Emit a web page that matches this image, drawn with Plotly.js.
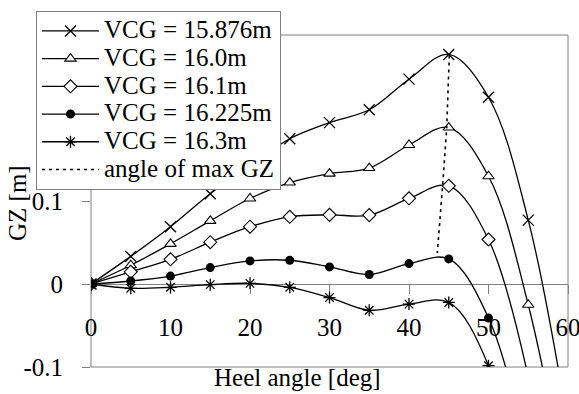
<!DOCTYPE html>
<html><head><meta charset="utf-8">
<script src="https://cdn.plot.ly/plotly-3.0.1.min.js"></script>
<style>html,body{margin:0;padding:0;background:#fff}#chart{width:579px;height:394px}
#chart svg text{font-family:'Liberation Serif',serif !important}</style>
</head><body><div id="chart"></div>
<script>
// Heel angles [deg]
const angles = [0, 5, 10, 15, 20, 25, 30, 35, 40, 45, 50, 55, 60];
const anglesShort = [0, 5, 10, 15, 20, 25, 30, 35, 40, 45, 50, 55];
// GZ [m] per VCG
const gz_15_876 = [0, 0.0333, 0.069, 0.1087, 0.143, 0.175, 0.1944, 0.2099, 0.2468, 0.2766, 0.225, 0.077, -0.17];
const gz_16_0   = [0, 0.0226, 0.0484, 0.076, 0.103, 0.1222, 0.133, 0.1397, 0.1675, 0.1885, 0.1298, -0.025, -0.26];
const gz_16_1   = [0, 0.0147, 0.0298, 0.0504, 0.069, 0.081, 0.0833, 0.083, 0.1032, 0.1183, 0.0536, -0.112];
const gz_16_225 = [0, 0.0036, 0.0095, 0.0198, 0.0278, 0.0286, 0.0206, 0.0115, 0.0246, 0.0302, -0.0409, -0.21];
const gz_16_3   = [0, -0.0052, -0.004, -0.0008, 0.0008, -0.004, -0.0163, -0.0317, -0.0242, -0.0222, -0.0984, -0.30];
// angle of max GZ (peak of each curve)
const maxAngle = [45.07, 44.74, 44.24, 43.56];
const maxGZ    = [0.2754, 0.1873, 0.1199, 0.0373];
const seriesNames = ['VCG = 15.876m', 'VCG = 16.0m', 'VCG = 16.1m', 'VCG = 16.225m', 'VCG = 16.3m', 'angle of max GZ'];
const xTicks = [0, 10, 20, 30, 40, 50, 60];
const yTicks = [-0.1, 0, 0.1];
const yTickText = ['-0.1', '0', '0.1'];

const FONT = 'Liberation Serif';
const lab = s => '<span style="font-size:25px">' + s + '</span>';
const lineStyle = {color: '#000', width: 1.3, shape: 'spline', smoothing: 1};

const traces = [
  {x: angles, y: gz_15_876, name: lab(seriesNames[0]), mode: 'lines+markers', line: lineStyle,
   marker: {symbol: 'x-thin', size: 11, line: {color: '#000', width: 1.3}}},
  {x: angles, y: gz_16_0, name: lab(seriesNames[1]), mode: 'lines+markers', line: lineStyle,
   marker: {symbol: 'triangle-up', size: 10, color: '#fff', line: {color: '#000', width: 1.1}}},
  {x: anglesShort, y: gz_16_1, name: lab(seriesNames[2]), mode: 'lines+markers', line: lineStyle,
   marker: {symbol: 'diamond', size: 10, color: '#fff', line: {color: '#000', width: 1.1}}},
  {x: anglesShort, y: gz_16_225, name: lab(seriesNames[3]), mode: 'lines+markers', line: lineStyle,
   marker: {symbol: 'circle', size: 9, color: '#000', line: {color: '#000', width: 0}}},
  {x: anglesShort, y: gz_16_3, name: lab(seriesNames[4]), mode: 'lines+markers', line: lineStyle,
   marker: {symbol: 'asterisk', size: 10, line: {color: '#000', width: 1.3}}},
  {x: maxAngle, y: maxGZ, name: lab(seriesNames[5]), mode: 'lines',
   line: {color: '#000', width: 1.6, dash: '3px,4px'}}
];

const layout = {
  width: 579, height: 394,
  margin: {l: 91, r: 11, t: 33, b: 27},
  paper_bgcolor: '#fff', plot_bgcolor: '#fff',
  font: {family: FONT, size: 25, color: '#000'},
  showlegend: true,
  legend: {
    x: -0.1153, y: 1.072, xanchor: 'left', yanchor: 'top',
    bgcolor: '#fff', bordercolor: '#808080', borderwidth: 1,
    font: {family: FONT, size: 19, color: '#000'},
    itemwidth: 57, tracegroupgap: 0
  },
  xaxis: {
    range: [0, 60], tickvals: xTicks, anchor: 'free', position: 0.25,
    showline: false, zeroline: false, showgrid: false,
    ticks: 'outside', ticklen: 9, tickcolor: '#808080', tickwidth: 1,
    ticklabelstandoff: 12, ticklabeloverflow: 'allow',
    tickfont: {family: FONT, size: 25, color: '#000'},
    layer: 'below traces'
  },
  yaxis: {
    range: [-0.1, 0.3], tickvals: yTicks, ticktext: yTickText,
    showline: false, showgrid: false,
    zeroline: true, zerolinecolor: '#808080', zerolinewidth: 1,
    ticks: 'outside', ticklen: 8, tickcolor: '#808080', tickwidth: 1,
    ticklabelstandoff: 14, tickfont: {family: FONT, size: 25, color: '#000'},
    automargin: false, layer: 'below traces'
  },
  shapes: [{type: 'rect', xref: 'paper', yref: 'paper', x0: 0, x1: 1, y0: 0, y1: 1,
            line: {color: '#808080', width: 1}, layer: 'below'}],
  annotations: [
    {text: 'Heel angle [deg]', xref: 'paper', yref: 'paper', x: 0.433, y: -0.033,
     xanchor: 'center', yanchor: 'middle', showarrow: false,
     font: {family: FONT, size: 25, color: '#000'}},
    {text: 'GZ [m]', xref: 'paper', yref: 'paper', x: -0.153, y: 0.494, textangle: -90,
     xanchor: 'center', yanchor: 'middle', showarrow: false,
     font: {family: FONT, size: 25, color: '#000'}}
  ]
};

Plotly.newPlot('chart', traces, layout, {displayModeBar: false, staticPlot: true});
</script>
</body></html>
